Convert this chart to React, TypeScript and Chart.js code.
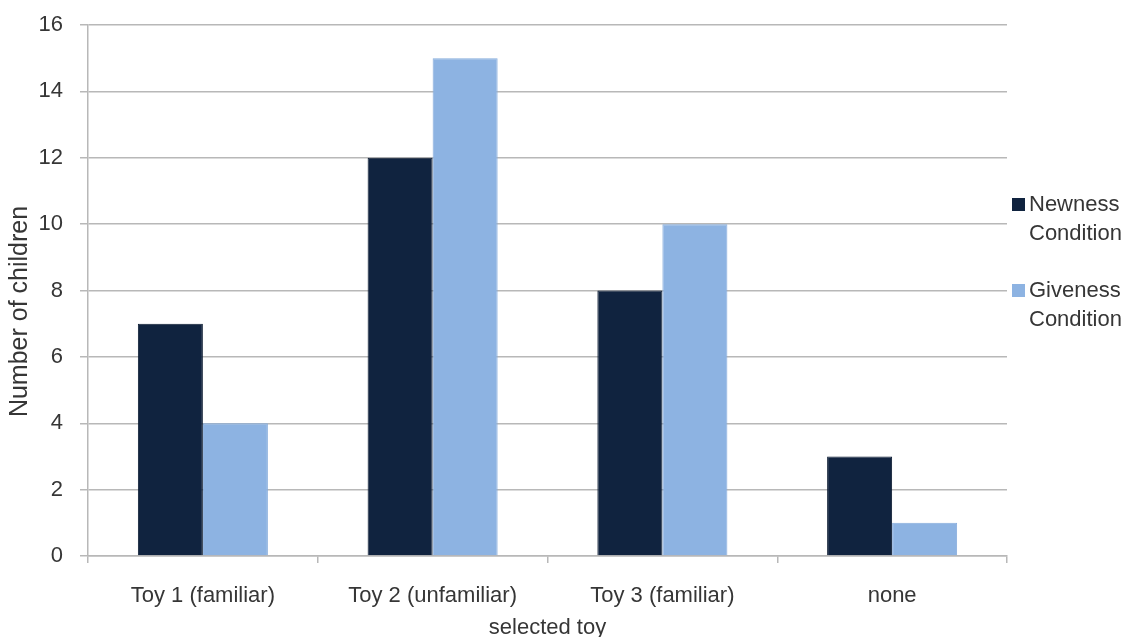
import React, { useEffect, useRef } from 'react';
import { Chart, registerables } from 'chart.js';

Chart.register(...registerables);

const categories = ['Toy 1 (familiar)', 'Toy 2 (unfamiliar)', 'Toy 3 (familiar)', 'none'];
const newnessValues = [7, 12, 8, 3];
const givenessValues = [4, 15, 10, 1];
const seriesLabels = [['Newness', 'Condition'], ['Giveness', 'Condition']];
const seriesColors = ['#10233f', '#8db3e2'];
const seriesBorders = ['#0a1a30', '#86acdc'];
const yTitle = 'Number of children';
const xTitle = 'selected toy';
const yMin = 0;
const yMax = 16;
const yStep = 2;

const FONT = "'Liberation Sans', Arial, sans-serif";
const TEXT = '#363636';
const GRID = '#b8b8b8';

const overlayPlugin = {
  id: 'overlay',
  afterDraw(chart: any) {
    const ctx = chart.ctx;
    const area = chart.chartArea;
    ctx.save();
    // y axis title
    ctx.fillStyle = TEXT;
    ctx.font = `25px ${FONT}`;
    ctx.textAlign = 'center';
    ctx.textBaseline = 'middle';
    ctx.translate(20, (area.top + area.bottom) / 2 + 21);
    ctx.rotate(-Math.PI / 2);
    ctx.fillText(yTitle, 0, 0);
    ctx.restore();

    // legend
    ctx.save();
    ctx.font = `22px ${FONT}`;
    ctx.textAlign = 'left';
    ctx.textBaseline = 'middle';
    const sqX = area.right + 5;
    const txtX = area.right + 22;
    seriesLabels.forEach((lines, i) => {
      const y0 = 205 + i * 86;
      ctx.fillStyle = seriesColors[i];
      ctx.fillRect(sqX, y0 - 7, 13, 13);
      ctx.fillStyle = TEXT;
      lines.forEach((ln, j) => ctx.fillText(ln, txtX, y0 + j * 29));
    });
    ctx.restore();
  },
};

export default function App() {
  const ref = useRef<HTMLCanvasElement | null>(null);
  useEffect(() => {
    if (!ref.current) return;
    const chart = new Chart(ref.current, {
      type: 'bar',
      data: {
        labels: categories,
        datasets: [
          {
            label: seriesLabels[0].join(' '),
            data: newnessValues,
            backgroundColor: seriesColors[0],
            borderColor: seriesBorders[0],
            borderWidth: 1,
            categoryPercentage: 0.566,
            barPercentage: 1,
          },
          {
            label: seriesLabels[1].join(' '),
            data: givenessValues,
            backgroundColor: seriesColors[1],
            borderColor: seriesBorders[1],
            borderWidth: 1,
            categoryPercentage: 0.566,
            barPercentage: 1,
          },
        ],
      },
      options: {
        responsive: false,
        animation: false,
        layout: { padding: { top: 25, right: 123, left: 0, bottom: 0 } },
        plugins: {
          legend: { display: false },
          tooltip: { enabled: false },
        },
        scales: {
          x: {
            grid: {
              offset: true,
              drawOnChartArea: false,
              drawTicks: true,
              tickLength: 7,
              color: GRID,
              lineWidth: 1.5,
            },
            border: { display: true, color: GRID, width: 1.5 },
            ticks: {
              color: TEXT,
              font: { family: FONT, size: 22 },
              padding: 20,
              maxRotation: 0,
              autoSkip: false,
            },
            title: {
              display: true,
              text: xTitle,
              color: TEXT,
              font: { family: FONT, size: 22, lineHeight: 0.8 },
              padding: { top: 0, bottom: 0 },
            },
            afterFit: (scale: any) => {
              scale.height = 81;
            },
          },
          y: {
            min: yMin,
            max: yMax,
            grid: {
              drawTicks: true,
              tickLength: 8,
              color: GRID,
              lineWidth: 1.5,
            },
            border: { display: true, color: GRID, width: 1.5 },
            ticks: {
              stepSize: yStep,
              color: TEXT,
              font: { family: FONT, size: 22 },
              padding: 17,
            },
            afterFit: (scale: any) => {
              scale.width = 88;
              scale.paddingTop = 0;
              scale.paddingBottom = 0;
            },
          },
        },
      },
      plugins: [overlayPlugin],
    });
    return () => chart.destroy();
  }, []);
  return (
    <div style={{ position: 'absolute', left: 0, top: 0, width: 1130, height: 637, background: '#fff' }}>
      <canvas ref={ref} width={1130} height={637} style={{ display: 'block' }} />
    </div>
  );
}
